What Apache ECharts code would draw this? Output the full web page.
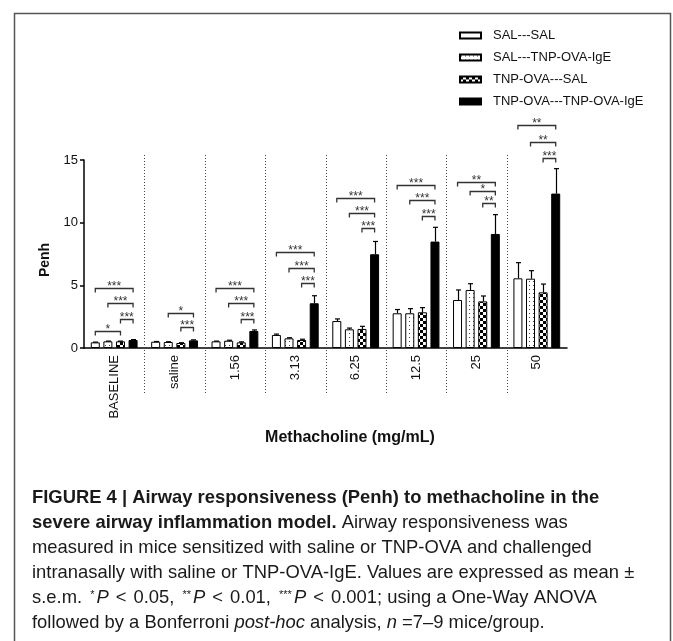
<!DOCTYPE html>
<html>
<head>
<meta charset="utf-8">
<title>Airway responsiveness (Penh)</title>
<script src="https://cdn.jsdelivr.net/npm/echarts@6.0.0/dist/echarts.min.js"></script>
<style>
html, body { margin: 0; padding: 0; background: #fff; }
#chart { width: 673px; height: 641px; }
</style>
</head>
<body>
<div id="chart"></div>
<script>
// methacholine dose groups
const categories = ['BASELINE', 'saline', '1.56', '3.13', '6.25', '12.5', '25', '50']
const seriesNames = ['SAL---SAL', 'SAL---TNP-OVA-IgE', 'TNP-OVA---SAL', 'TNP-OVA---TNP-OVA-IgE']

// Penh means
const salSal = [0.45, 0.5, 0.53, 1.04, 2.15, 2.77, 3.83, 5.56]
const salIgE = [0.53, 0.48, 0.58, 0.77, 1.49, 2.77, 4.63, 5.53]
const ovaSal = [0.53, 0.4, 0.45, 0.64, 1.52, 2.85, 3.72, 4.44]
const ovaIgE = [0.64, 0.61, 1.36, 3.57, 7.48, 8.49, 9.1, 12.32]

// s.e.m.
const salSalErr = [0.02, 0.02, 0.02, 0.07, 0.17, 0.3, 0.8, 1.25]
const salIgEErr = [0.02, 0.02, 0.04, 0.05, 0.1, 0.37, 0.5, 0.64]
const ovaSalErr = [0.02, 0.02, 0.04, 0.06, 0.21, 0.37, 0.43, 0.66]
const ovaIgEErr = [0.03, 0.04, 0.08, 0.6, 1.02, 1.14, 1.54, 1.99]

// significance brackets: group, from bar, to bar, height (Penh), label
const sigGroup = [0, 0, 0, 0, 1, 1, 2, 2, 2, 3, 3, 3, 4, 4, 4, 5, 5, 5, 6, 6, 6, 7, 7, 7]
const sigFrom = [0, 2, 1, 0, 2, 1, 2, 1, 0, 2, 1, 0, 2, 1, 0, 2, 1, 0, 2, 1, 0, 2, 1, 0]
const sigTo = [2, 3, 3, 3, 3, 3, 3, 3, 3, 3, 3, 3, 3, 3, 3, 3, 3, 3, 3, 3, 3, 3, 3, 3]
const sigY = [1.38, 2.31, 3.56, 4.81, 1.65, 2.82, 2.29, 3.56, 4.81, 5.16, 6.41, 7.69,
  9.55, 10.75, 12.0, 10.53, 11.78, 13.0, 11.55, 12.55, 13.27, 15.14, 16.47, 17.8]
const sigLabels = ['*', '***', '***', '***', '***', '*', '***', '***', '***', '***', '***', '***',
  '***', '***', '***', '***', '***', '***', '**', '*', '**', '***', '**', '**']

const yTicks = [0, 5, 10, 15]

const captionLines = [
  '{b|FIGURE 4 | Airway responsiveness (Penh) to methacholine in the}',
  '{b|severe airway inflammation model.} Airway responsiveness was',
  'measured in mice sensitized with saline or TNP-OVA and challenged',
  'intranasally with saline or TNP-OVA-IgE. Values are expressed as mean ±',
  's.e.m. {s|*}{i|P}{lt|<}0.05, {s|**}{i|P}{lt|<}0.01, {s|***}{i|P}{lt|<}0.001; using a One-Way ANOVA',
  'followed by a Bonferroni {i|post-hoc} analysis, {i|n} =7–9 mice/group.'
]

const FONT = '"Liberation Sans", Arial, sans-serif'
const BAR_W = 9
const BAR_STEP = BAR_W * 1.4
const CAP_SIZE = 18.4

const makePattern = (size, draw) => {
  const c = document.createElement('canvas')
  c.width = c.height = size
  const ctx = c.getContext('2d')
  ctx.fillStyle = '#fff'
  ctx.fillRect(0, 0, size, size)
  ctx.fillStyle = '#000'
  draw(ctx)
  return c
}

const dotPattern = makePattern(4, ctx => {
  ctx.fillStyle = '#444'
  ctx.fillRect(1, 1, 1, 1)
})
const checkPattern = makePattern(6, ctx => {
  ctx.fillRect(0, 0, 3, 3)
  ctx.fillRect(3, 3, 3, 3)
})

const means = [salSal, salIgE, ovaSal, ovaIgE]
const errs = [salSalErr, salIgEErr, ovaSalErr, ovaIgEErr]
const fills = ['#fff', { image: dotPattern, repeat: 'repeat' }, { image: checkPattern, repeat: 'repeat' }, '#000']

const barSeries = seriesNames.map((name, k) => ({
  name,
  type: 'bar',
  data: means[k],
  barWidth: BAR_W,
  barGap: '40%',
  itemStyle: { color: fills[k], borderColor: '#000', borderWidth: 1 },
  emphasis: { disabled: true },
  z: 2
}))

const errSeries = means.map((vals, k) => ({
  name: 'err' + k,
  type: 'custom',
  silent: true,
  clip: false,
  z: 3,
  data: vals.map((v, i) => [i, v, errs[k][i]]),
  renderItem: (params, api) => {
    const i = api.value(0)
    const v = api.value(1)
    const e = api.value(2)
    const base = api.coord([i, v])
    const top = api.coord([i, v + e])
    const x = Math.round(base[0] + (k - 1.5) * BAR_STEP) + 0.5
    const st = { stroke: '#000', lineWidth: 1.2 }
    return {
      type: 'group',
      children: [
        { type: 'line', shape: { x1: x, y1: base[1], x2: x, y2: top[1] }, style: st },
        { type: 'line', shape: { x1: x - 2.5, y1: top[1], x2: x + 2.5, y2: top[1] }, style: st }
      ]
    }
  }
}))

const sepSeries = {
  name: 'separators',
  type: 'custom',
  silent: true,
  clip: false,
  z: 1,
  data: categories.slice(1).map((c, j) => [j + 1, 0]),
  renderItem: (params, api) => {
    const i = api.value(0)
    const p = api.coord([i, 0])
    const w = api.size([1, 0])[0]
    const x = Math.round(p[0] - w / 2) + 0.5
    return {
      type: 'line',
      shape: { x1: x, y1: api.coord([i, 15.4])[1], x2: x, y2: p[1] + 46 },
      style: { stroke: '#444', lineWidth: 1, lineDash: [1, 2] }
    }
  }
}

const sigSeries = {
  name: 'significance',
  type: 'custom',
  silent: true,
  clip: false,
  z: 4,
  data: sigGroup.map((g, j) => [g, sigY[j], sigFrom[j], sigTo[j]]),
  renderItem: (params, api) => {
    const p = api.coord([api.value(0), api.value(1)])
    const y = Math.round(p[1]) + 0.5
    const x1 = p[0] + (api.value(2) - 1.5) * BAR_STEP
    const x2 = p[0] + (api.value(3) - 1.5) * BAR_STEP
    return {
      type: 'group',
      children: [
        {
          type: 'polyline',
          shape: { points: [[x1, y + 4], [x1, y], [x2, y], [x2, y + 4]] },
          style: { stroke: '#333', fill: null, lineWidth: 1.3 }
        },
        {
          type: 'text',
          x: (x1 + x2) / 2,
          y: y - 1.5,
          style: {
            text: sigLabels[params.dataIndex],
            fontSize: 12,
            fontFamily: FONT,
            fill: '#333',
            align: 'center',
            verticalAlign: 'middle'
          }
        }
      ]
    }
  }
}

const chart = echarts.init(document.getElementById('chart'))

chart.setOption({
  animation: false,
  textStyle: { fontFamily: FONT },
  grid: { left: 84, right: 106, top: 160, bottom: 293, outerBoundsMode: 'none' },
  legend: {
    data: seriesNames,
    orient: 'vertical',
    left: 459,
    top: 29,
    padding: 0,
    icon: 'rect',
    itemWidth: 21,
    itemHeight: 6,
    itemGap: 9,
    selectedMode: false,
    textStyle: { fontSize: 13, color: '#111', fontFamily: FONT, padding: [0, 0, 0, 7] }
  },
  xAxis: {
    type: 'category',
    data: categories,
    axisTick: { show: false },
    axisLine: { lineStyle: { color: '#000', width: 1.5 } },
    axisLabel: { rotate: 90, margin: 7, fontSize: 13, color: '#111', interval: 0 }
  },
  yAxis: {
    type: 'value',
    min: yTicks[0],
    max: yTicks[yTicks.length - 1],
    interval: 5,
    splitLine: { show: false },
    axisLine: { show: true, lineStyle: { color: '#000', width: 1.5 } },
    axisTick: { show: true, length: 4, lineStyle: { color: '#000', width: 1.5 } },
    axisLabel: { fontSize: 13, color: '#111', margin: 6 }
  },
  graphic: [
    {
      type: 'rect',
      shape: { x: 14.5, y: 13.5, width: 656, height: 700 },
      style: { fill: null, stroke: '#555', lineWidth: 1.5 },
      silent: true
    },
    {
      type: 'text',
      x: 45,
      y: 260,
      rotation: Math.PI / 2,
      style: { text: 'Penh', fontSize: 14, fontWeight: 'bold', fontFamily: FONT, fill: '#111', align: 'center', verticalAlign: 'middle' }
    },
    {
      type: 'text',
      x: 350,
      y: 438,
      style: { text: 'Methacholine (mg/mL)', fontSize: 16, fontWeight: 'bold', fontFamily: FONT, fill: '#111', align: 'center', verticalAlign: 'middle' }
    },
    ...captionLines.map((line, j) => ({
      type: 'text',
      x: 32,
      y: 498 + j * 25,
      style: {
        text: line,
        fontSize: CAP_SIZE,
        fontFamily: FONT,
        fill: '#1a1a1a',
        align: 'left',
        verticalAlign: 'middle',
        rich: {
          b: { fontSize: CAP_SIZE, fontWeight: 'bold', fontFamily: FONT, fill: '#1a1a1a' },
          i: { fontSize: CAP_SIZE, fontStyle: 'italic', fontFamily: FONT, fill: '#1a1a1a' },
          s: { fontSize: 11, fontFamily: FONT, fill: '#1a1a1a', verticalAlign: 'top', padding: [0, 2, 0, 3] },
          lt: { fontSize: CAP_SIZE, fontFamily: FONT, fill: '#1a1a1a', padding: [0, 7, 0, 7] }
        }
      }
    }))
  ],
  series: [sepSeries, ...barSeries, ...errSeries, sigSeries]
})
</script>
</body>
</html>
